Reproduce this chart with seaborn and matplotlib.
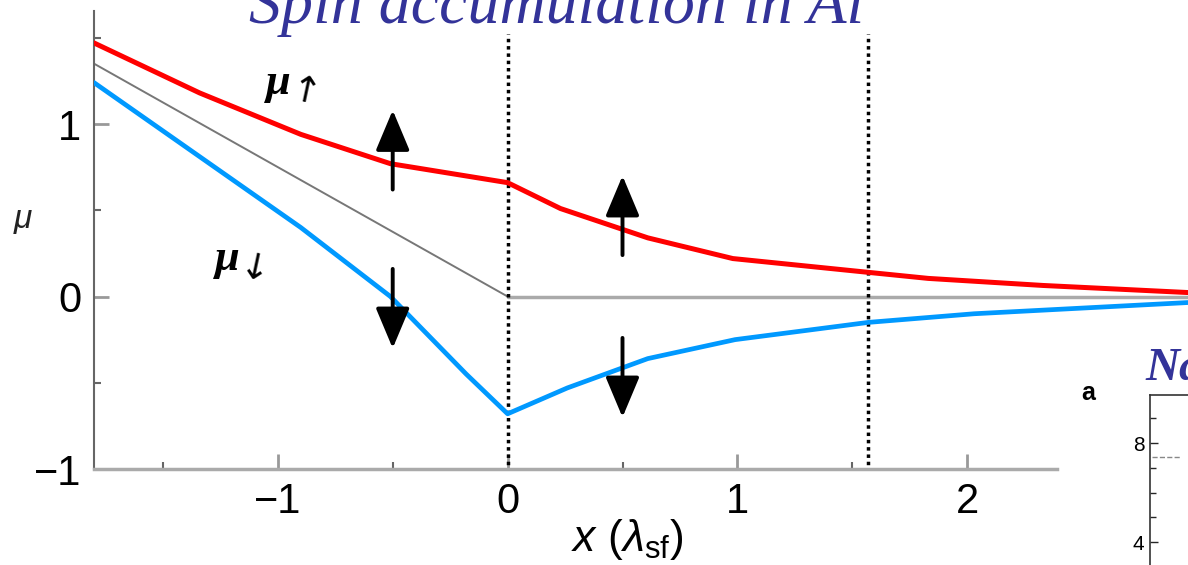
import numpy as np
import pandas as pd
import seaborn as sns
import matplotlib.pyplot as plt
from matplotlib.ticker import FixedLocator

# chemical potential profiles (x in units of lambda_sf)
x_up = [-1.80, -1.34, -0.90, -0.51, 0.0, 0.23, 0.61, 0.98, 1.57, 1.83, 2.33, 2.96]
mu_up = [1.47, 1.18, 0.94, 0.77, 0.66, 0.51, 0.34, 0.22, 0.14, 0.105, 0.064, 0.023]

x_down = [-1.80, -0.90, -0.51, -0.18, 0.0, 0.26, 0.61, 0.99, 1.57, 2.03, 2.96]
mu_down = [1.24, 0.40, 0.0, -0.45, -0.68, -0.53, -0.36, -0.25, -0.15, -0.10, -0.035]

x_avg = [-1.80, 0.0]
mu_avg = [1.35, 0.0]
x_zero = [0.0, 2.96]
mu_zero = [0.0, 0.0]

interfaces = [0.0, 1.57]

# spin arrows: (x, tail, head)
up_arrows = [(-0.50, 0.62, 1.08), (0.50, 0.24, 0.70)]
down_arrows = [(-0.50, 0.16, -0.30), (0.50, -0.24, -0.70)]

xticks_major = [-1, 0, 1, 2]
xticks_minor = [-1.5, -0.5, 0.5, 1.5]
yticks_major = [-1, 0, 1]
yticks_minor = [-0.5, 0.5, 1.5]

# fragment of the neighbouring panel
inset_ticks = [4, 8]
inset_minor = [5, 6, 7, 9]
inset_x = [0.02, 0.25]
inset_y = [7.45, 7.45]

sns.set_style('ticks')
plt.rcParams['font.family'] = ['Liberation Sans', 'DejaVu Sans']
plt.rcParams['mathtext.fontset'] = 'custom'
plt.rcParams['mathtext.rm'] = 'Liberation Sans'
plt.rcParams['mathtext.it'] = 'Liberation Sans:italic'

fig = plt.figure(figsize=(11.88, 5.65), dpi=100)
ax = fig.add_axes([0.0791, 0.1699, 0.9217, 0.8106])
ax.set_xlim(-1.80, 2.965)
ax.set_ylim(-1.0, 1.655)

# reference lines
sns.lineplot(x=x_zero, y=mu_zero, ax=ax, color='#aaaaaa', lw=2.5)
sns.lineplot(x=x_avg, y=mu_avg, ax=ax, color='#777777', lw=1.4)
ax.vlines(interfaces, -1.02, 1.52, colors='black', lw=2.5,
          linestyles=(0, (1, 1.1)), zorder=4)

# spin up / spin down
sns.lineplot(x=x_up, y=mu_up, ax=ax, color='#ff0000', lw=3.6, sort=False, zorder=5)
sns.lineplot(x=x_down, y=mu_down, ax=ax, color='#0099ff', lw=3.4, sort=False, zorder=5)

for xa, tail, head in up_arrows + down_arrows:
    ax.annotate('', xy=(xa, head), xytext=(xa, tail),
                arrowprops=dict(arrowstyle='-|>,head_length=1.0,head_width=0.42',
                                mutation_scale=25, lw=2.8, color='black',
                                shrinkA=0, shrinkB=0), zorder=6)

# curve labels
ax.text(-1.00, 1.24, 'μ', fontsize=32, fontweight='bold', style='italic',
        family='Liberation Serif', color='black', ha='center', va='center')
ax.text(-0.88, 1.18, '↑', fontsize=26, family='DejaVu Sans', rotation=-12,
        color='black', ha='center', va='center')
ax.text(-1.22, 0.22, 'μ', fontsize=32, fontweight='bold', style='italic',
        family='Liberation Serif', color='black', ha='center', va='center')
ax.text(-1.10, 0.15, '↓', fontsize=26, family='DejaVu Sans', rotation=-12,
        color='black', ha='center', va='center')

# axes styling
for side in ['top', 'right']:
    ax.spines[side].set_visible(False)
ax.spines['left'].set_color('#666666')
ax.spines['left'].set_linewidth(1.5)
ax.spines['bottom'].set_color('#aaaaaa')
ax.spines['bottom'].set_linewidth(2.5)
ax.spines['bottom'].set_bounds(-1.80, 2.39)

ax.xaxis.set_major_locator(FixedLocator(xticks_major))
ax.xaxis.set_minor_locator(FixedLocator(xticks_minor))
ax.yaxis.set_major_locator(FixedLocator(yticks_major))
ax.yaxis.set_minor_locator(FixedLocator(yticks_minor))
ax.tick_params(which='major', direction='in', length=11, width=2, color='#999999',
               labelsize=30, pad=9, labelcolor='black')
ax.tick_params(which='minor', direction='in', length=5, width=1.5, color='#666666')

fig.text(23 / 1188, 1 - 220 / 565, 'μ', fontsize=24, style='italic',
         color='#222222', ha='center', va='center')
fig.text(627 / 1188, 1 - 540 / 565, r'$x$ ($\lambda_{\rm sf}$)', fontsize=32,
         color='black', ha='center', va='center')

# slide titles (cut off by the crop)
fig.text(557 / 1188, 1 - 23 / 565, 'Spin accumulation in Al', fontsize=46,
         style='italic', family='Liberation Serif', color='#333399',
         ha='center', va='baseline')
fig.text(1145 / 1188, 1 - 380 / 565, 'Na', fontsize=34, style='italic',
         fontweight='bold', family='Liberation Serif', color='#333399',
         ha='left', va='baseline')
fig.text(1088 / 1188, 1 - 393 / 565, 'a', fontsize=18, fontweight='bold',
         color='black', ha='center', va='center')

ins = fig.add_axes([1150 / 1188, 0.0, 0.1, 170 / 565])
ins.set_xlim(0, 1)
ins.set_ylim(3.07, 9.95)
sns.lineplot(x=inset_x, y=inset_y, ax=ins, color='#888888', lw=1, linestyle='--')
for side in ['right', 'bottom']:
    ins.spines[side].set_visible(False)
for side in ['left', 'top']:
    ins.spines[side].set_color('#333333')
    ins.spines[side].set_linewidth(1.2)
ins.set_xticks([])
ins.yaxis.set_major_locator(FixedLocator(inset_ticks))
ins.yaxis.set_minor_locator(FixedLocator(inset_minor))
ins.tick_params(which='major', direction='in', length=6, width=1, labelsize=15,
                pad=4, labelcolor='black')
ins.tick_params(which='minor', direction='in', length=4, width=1)

fig.savefig('out.png', dpi=100)
